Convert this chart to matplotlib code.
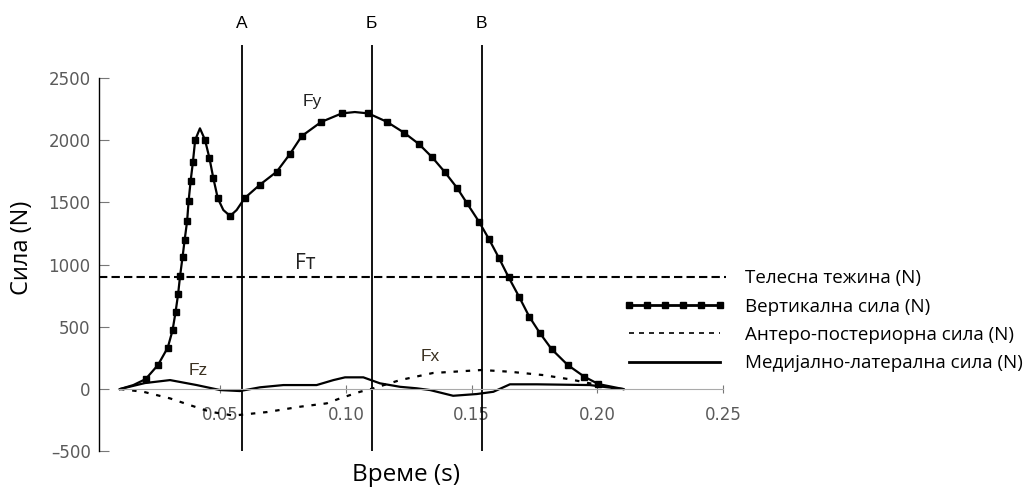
import matplotlib.pyplot as plt
from matplotlib.lines import Line2D

# Vertical force Fy; fy_marked = sample has a square marker
fy_time = [0.0101, 0.0154, 0.0203, 0.0252, 0.0291, 0.0310, 0.0322, 0.0332, 0.0340,
           0.0350, 0.0358, 0.0368, 0.0374, 0.0382, 0.0391, 0.0400, 0.0419, 0.0439,
           0.0457, 0.0472, 0.0490, 0.0512, 0.0539, 0.0565, 0.0597, 0.0658, 0.0724,
           0.0777, 0.0824, 0.0901, 0.0983, 0.1035, 0.1089, 0.1162, 0.1231, 0.1290,
           0.1343, 0.1393, 0.1443, 0.1480, 0.1529, 0.1569, 0.1609, 0.1647, 0.1689,
           0.1729, 0.1772, 0.1818, 0.1882, 0.1948, 0.2004, 0.2103]
fy_force = [0, 32, 80, 193, 333, 471, 618, 760, 908,
            1063, 1195, 1349, 1512, 1671, 1823, 2000, 2094, 2002,
            1853, 1696, 1532, 1438, 1390, 1438, 1534, 1642, 1745,
            1888, 2032, 2145, 2214, 2225, 2214, 2147, 2059, 1968,
            1861, 1743, 1612, 1496, 1344, 1203, 1050, 897, 739,
            581, 447, 320, 193, 99, 40, 0]
fy_marked = [False, False] + [True] * 14 + [False] + [True] * 4 + [False, True, False] \
    + [True] * 7 + [False] + [True] * 19 + [False]

# Antero-posterior force Fx
fx_time = [0.0101, 0.0194, 0.0300, 0.0379, 0.0459, 0.0552, 0.0685, 0.0817, 0.0923,
           0.0976, 0.1056, 0.1109, 0.1215, 0.1346, 0.1540, 0.1652, 0.1785, 0.1891,
           0.1970, 0.2050, 0.2090]
fx_force = [0, -22, -75, -129, -182, -213, -185, -142, -115,
            -75, -22, 6, 72, 129, 153, 139, 112, 78,
            46, 8, 0]

# Medio-lateral force Fz
fz_time = [0.0101, 0.0200, 0.0300, 0.0406, 0.0499, 0.0578, 0.0658, 0.0751, 0.0883,
           0.0950, 0.0996, 0.1069, 0.1135, 0.1215, 0.1281, 0.1334, 0.1426, 0.1520,
           0.1586, 0.1652, 0.1759, 0.1970, 0.2023, 0.2103]
fz_force = [0, 48, 72, 32, -8, -16, 14, 32, 32,
            72, 94, 94, 46, 18, 6, -8, -54, -40,
            -22, 38, 38, 32, 18, 0]

body_weight = 900
phase_times = [0.0585, 0.1102, 0.1540]
phase_labels = ['А', 'Б', 'В']

x_ticks = [0.05, 0.10, 0.15, 0.20, 0.25]
y_ticks = [-500, 0, 500, 1000, 1500, 2000, 2500]

legend_labels = ['Телесна тежина (N)', 'Вертикална сила (N)',
                 'Антеро-постериорна сила (N)', 'Медијално-латерална сила (N)']

W, H = 1027, 487
fig = plt.figure(figsize=(W / 100, H / 100), dpi=100)
# x: 2514 px per second, y: 0.1245 px per newton
ax = fig.add_axes([99 / W, (H - 451.3) / H, 636.7 / W, 448.2 / H])
ax.set_xlim(0.00175, 0.255)
ax.set_ylim(-500, 3100)

ax.plot(fy_time, fy_force, color='black', lw=1.6, marker='s', ms=4.5,
        markevery=fy_marked)
ax.plot(fx_time, fx_force, color='black', lw=1.6, linestyle=(0, (2, 3.5)))
ax.plot(fz_time, fz_force, color='black', lw=1.6)
ax.hlines(body_weight, 0.00175, 0.2512, color='black', lw=1.5,
          linestyles=[(0, (4, 2))], clip_on=False)

for t, lab in zip(phase_times, phase_labels):
    ax.vlines(t, -500, 2760, color='black', lw=1.3)
    ax.text(t, 2935, lab, ha='center', va='center', fontsize=12.5,
            family='Liberation Sans')

ax.text(0.0864, 2308, 'Fy', ha='center', va='center', fontsize=12.5,
        family='Liberation Sans', color='#222222')
ax.text(0.0837, 1012, 'Fт', ha='center', va='center', fontsize=15,
        family='Open Sans', color='#222222')
ax.text(0.0413, 153, 'Fz', ha='center', va='center', fontsize=12.5,
        family='Liberation Sans', color='#3a3020')
ax.text(0.1334, 265, 'Fx', ha='center', va='center', fontsize=12.5,
        family='Liberation Sans', color='#3a3020')

for s in ['top', 'right']:
    ax.spines[s].set_visible(False)
ax.spines['left'].set_bounds(-500, 2500)
ax.spines['left'].set_linewidth(1.0)
ax.spines['bottom'].set_position(('data', 0))
ax.spines['bottom'].set_bounds(0.0095, 0.25)
ax.spines['bottom'].set_color('#aaaaaa')
ax.spines['bottom'].set_linewidth(0.8)

ax.set_xticks(x_ticks)
ax.set_xticklabels([f'{v:.2f}' for v in x_ticks])
ax.set_yticks(y_ticks)
ax.set_yticklabels([str(v).replace('-', '\u2013') for v in y_ticks])
ax.tick_params(axis='y', direction='in', length=7, width=0.8, color='#777777',
               labelsize=12, labelcolor='#5a5a5a', pad=6)
ax.tick_params(axis='x', direction='inout', length=6, width=0.8, color='#777777',
               labelsize=12, labelcolor='#5a5a5a', pad=9)
for lbl in ax.get_xticklabels() + ax.get_yticklabels():
    lbl.set_family('DejaVu Sans')

fig.text(22 / W, 1 - 248 / H, 'Сила (N)', rotation=90, ha='center', va='center',
         fontsize=17, family='Open Sans')
fig.text(406 / W, 1 - 475 / H, 'Време (s)', ha='center', va='center',
         fontsize=17.5, family='Open Sans')

handles = [Line2D([], [], linestyle='none'),
           Line2D([], [], color='black', lw=2, marker='s', ms=4),
           Line2D([], [], color='black', lw=1.2, linestyle=(0, (3, 3))),
           Line2D([], [], color='black', lw=2)]
fig.legend(handles, legend_labels, loc='upper left',
           bbox_to_anchor=(623 / W, 1 - 269 / H), frameon=False,
           prop={'family': 'Open Sans', 'size': 13.5}, handlelength=5.45,
           handletextpad=1.05, labelspacing=0.56, borderpad=0, borderaxespad=0,
           numpoints=6)

fig.savefig('out.png', dpi=100)
